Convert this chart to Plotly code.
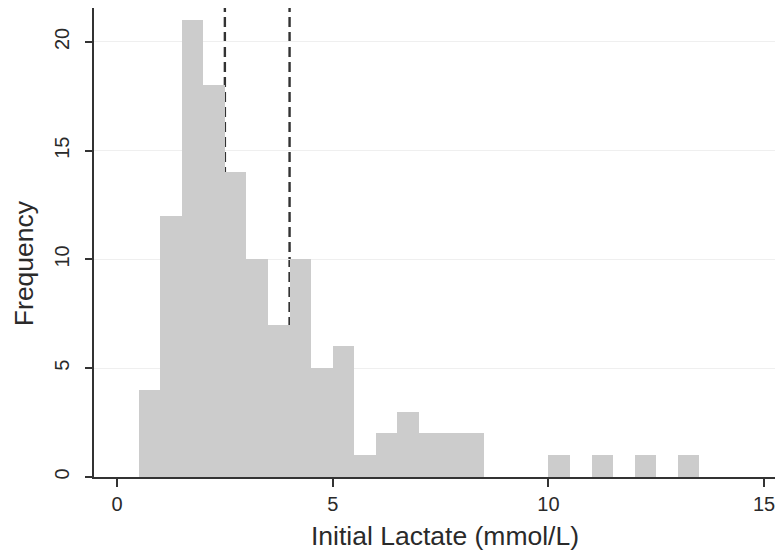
import plotly.graph_objects as go

# Histogram data (bin left edges, width 0.5 mmol/L) and counts
bin_left = [0.5, 1.0, 1.5, 2.0, 2.5, 3.0, 3.5, 4.0, 4.5, 5.0, 5.5, 6.0, 6.5, 7.0, 7.5, 8.0,
            10.0, 11.0, 12.0, 13.0]
counts = [4, 12, 21, 18, 14, 10, 7, 10, 5, 6, 1, 2, 3, 2, 2, 2,
          1, 1, 1, 1]
bin_width = 0.5
cutoffs = [2.5, 4.0]
x_ticks = [0, 5, 10, 15]
y_ticks = [0, 5, 10, 15, 20]
x_title = "Initial Lactate (mmol/L)"
y_title = "Frequency"

centers = [b + bin_width / 2 for b in bin_left]

fig = go.Figure()
fig.add_trace(go.Bar(
    x=centers, y=counts, width=[bin_width] * len(counts),
    marker=dict(color="#cccccc", line=dict(width=0)),
    hoverinfo="x+y", showlegend=False,
))

for c in cutoffs:
    fig.add_shape(type="line", xref="x", yref="paper", x0=c, x1=c, y0=0, y1=1,
                  line=dict(color="#333333", width=2.4, dash="10px,5px"), layer="below")

font_family = "Liberation Sans, Arial, Helvetica, sans-serif"

fig.add_annotation(text=x_title, xref="paper", yref="paper", x=0.514, y=0,
                   xanchor="center", yanchor="middle", yshift=-59, showarrow=False,
                   font=dict(size=26.5, family=font_family, color="#2a2a2a"))
fig.add_annotation(text=y_title, xref="paper", yref="paper", x=0, y=0.456,
                   xanchor="center", yanchor="middle", xshift=-70, textangle=-90,
                   showarrow=False,
                   font=dict(size=26.5, family=font_family, color="#2a2a2a"))

fig.update_layout(
    width=775, height=552,
    margin=dict(l=86, r=6, t=0, b=83),
    paper_bgcolor="white", plot_bgcolor="white",
    bargap=0,
    font=dict(family=font_family, color="#2a2a2a"),
    xaxis=dict(
        range=[-0.534, 15.30], tickvals=x_ticks, ticks="outside", ticklen=8,
        tickwidth=1.5, tickcolor="#333", showline=True, linecolor="#333", linewidth=1.8,
        showgrid=False, zeroline=False, tickfont=dict(size=20),
        automargin=False,
    ),
    yaxis=dict(
        range=[0, 21.56], tickvals=y_ticks, ticks="outside", ticklen=7,
        tickwidth=1.5, tickcolor="#333", showline=True, linecolor="#333", linewidth=1.8,
        showgrid=True, gridcolor="#efefef", gridwidth=1, zeroline=False,
        tickangle=-90, tickfont=dict(size=20), ticklabelstandoff=8,
        automargin=False,
    ),
)

fig.write_html("out.html")
